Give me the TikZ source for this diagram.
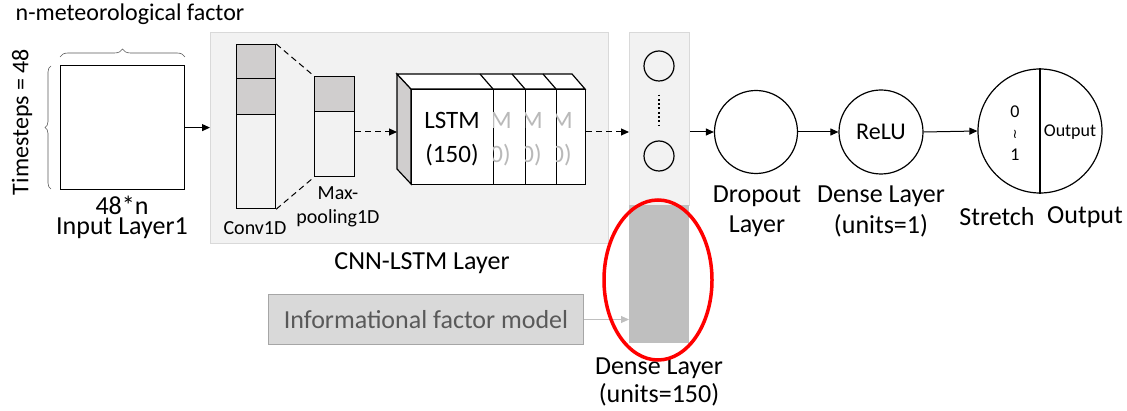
\documentclass[tikz,border=0pt]{standalone}
\usepackage{fontspec}
\setmainfont{Carlito}
\newfontfamily\symfont{DejaVu Sans}
\usetikzlibrary{arrows.meta,decorations.pathreplacing,calc}
\definecolor{panel}{HTML}{F2F2F2}
\definecolor{panelborder}{HTML}{D9D9D9}
\definecolor{segfill}{HTML}{D0CECE}
\definecolor{densefill}{HTML}{BFBFBF}
\definecolor{infofill}{HTML}{D9D9D9}
\definecolor{infoborder}{HTML}{A6A6A6}
\definecolor{infotext}{HTML}{595959}
\tikzset{
  lbl/.style={font=\fontsize{26}{28}\selectfont, inner sep=0pt},
  midlbl/.style={font=\fontsize{24}{26}\selectfont, inner sep=0pt},
  smlbl/.style={font=\fontsize{20}{22}\selectfont, inner sep=0pt},
  tiny/.style={font=\fontsize{18}{20}\selectfont, inner sep=0pt},
  arr/.style={-{Triangle[length=8pt,width=7pt]}, line width=1pt},
  darr/.style={arr, dash pattern=on 6pt off 4pt},
  box/.style={draw, line width=1.2pt},
  neuron/.style={circle, draw, line width=1.2pt, inner sep=0pt},
}
\begin{document}
\begin{tikzpicture}[x=1pt,y=-1pt]
\useasboundingbox (0,0) rectangle (1127,411);
% input layer
\node[box, minimum width=124pt, minimum height=124pt, anchor=north west] (inp) at (60,65) {};
\draw[decorate, decoration={brace, amplitude=8pt}, gray!70!black, line width=0.6pt] (60,57) -- (185,57);
\draw[decorate, decoration={brace, amplitude=6pt}, gray!70!black, line width=0.6pt] (51,189) -- (51,66);
\node[midlbl] (nmet) at (130,14) {n-meteorological factor};
\node[midlbl, rotate=90] (tstep) at (22,122) {Timesteps = 48};
\node[lbl] (n48) at (122,205) {48*n};
\node[lbl] (inplbl) at (122,228) {Input Layer1};
% CNN-LSTM panel
\node[draw=panelborder, fill=panel, line width=1pt, minimum width=398pt, minimum height=211pt, anchor=north west] (panel) at (210,32) {};
\node[lbl] (cnnlbl) at (422,263) {CNN-LSTM Layer};
\draw[arr] (inp.east) -- (panel.west |- inp.east);
% conv1d
\node[box, fill=segfill, minimum width=39pt, minimum height=34pt, anchor=north west] (c1) at (236,44) {};
\node[box, fill=segfill, minimum width=39pt, minimum height=36pt, anchor=north west] (c2) at (236,78) {};
\node[box, minimum width=39pt, minimum height=94pt, anchor=north west] (c3) at (236,114) {};
\node[smlbl] (convlbl) at (255,228) {Conv1D};
% maxpool
\node[box, fill=segfill, minimum width=40pt, minimum height=35pt, anchor=north west] (m1) at (314,76) {};
\node[box, minimum width=40pt, minimum height=65pt, anchor=north west] (m2) at (314,111) {};
\node[smlbl] (mplbl1) at (338,193) {Max-};
\node[smlbl] (mplbl2) at (338,218) {pooling1D};
\draw[dash pattern=on 6pt off 4pt, line width=1pt] (c1.north east) -- (m1.north west);
\draw[dash pattern=on 6pt off 4pt, line width=1pt] (c3.south east) -- (m2.south west);
% LSTM block
\coordinate (lstmin) at (397,132);
\filldraw[fill=segfill, line width=1.2pt] (397,74) -- (411,89) -- (411,184) -- (397,169) -- cycle;
\filldraw[fill=white, line width=1.2pt] (397,74) -- (572,74) -- (585,89) -- (411,89) -- cycle;
\node[box, fill=white, minimum width=82pt, minimum height=95pt, anchor=north west] (lstm) at (411,89) {};
\node[box, fill=white, minimum width=32pt, minimum height=95pt, anchor=north west] (s1) at (493,89) {};
\node[box, fill=white, minimum width=31pt, minimum height=95pt, anchor=north west] (s2) at (525,89) {};
\node[box, fill=white, minimum width=29pt, minimum height=95pt, anchor=north west] (s3) at (556,89) {};
\draw[line width=1.2pt] (480,74) -- (493,89) (512,74) -- (525,89) (543,74) -- (556,89);
\node[lbl, font=\fontsize{25}{34}\selectfont, align=center] (lstmtxt) at (452,139) {LSTM\\(150)};
\foreach \s/\sh in {s1/32,s2/63,s3/93}{
  \begin{scope}
    \clip (\s.north west) rectangle (\s.south east);
    \node[lbl, font=\fontsize{25}{34}\selectfont, align=center, text=gray!55] at (452+\sh,139) {LSTM\\(150)};
  \end{scope}
}
\draw[darr] (m2.east |- lstmin) -- (lstmin);
% dense column
\node[draw=panelborder, fill=panel, line width=1pt, minimum width=60pt, minimum height=173pt, anchor=north west] (dcol) at (629,32) {};
\node[fill=densefill, minimum width=60pt, minimum height=138pt, anchor=north west, inner sep=0pt] (dense) at (629,205) {};
\node[neuron, minimum size=30pt] (n1) at (659,66) {};
\node[neuron, minimum size=30pt] (n2) at (659,156) {};
\draw[line width=1.8pt, dash pattern=on 1.8pt off 2.5pt] ($(n1.south)+(0,13)$) -- ($(n2.north)+(0,-13)$);
\draw[darr] (s3.east |- lstmin) -- (dcol.west |- lstmin);
\node[lbl] (dlbl1) at (659,368) {Dense Layer};
\node[lbl] (dlbl2) at (659,395) {(units=150)};
% informational factor model
\node[draw=infoborder, fill=infofill, line width=1pt, minimum width=315pt, minimum height=50pt, anchor=north west] (info) at (268,294) {};
\node[lbl, text=infotext] (infotxt) at (info.center) {Informational factor model};
\draw[arr, densefill] (info.east) -- (dense.west |- info.east);
% red ellipse
\draw[red, line width=3.5pt] (658,280) ellipse [x radius=54pt, y radius=80pt];
% dropout
\node[neuron, minimum size=83pt] (drop) at (756,132) {};
\node[lbl] (droplbl1) at (757,196) {Dropout};
\node[lbl] (droplbl2) at (757,226) {Layer};
\draw[arr] (dcol.east |- drop.west) -- (drop.west);
% relu
\node[neuron, minimum size=84pt, font=\fontsize{24}{26}\selectfont] (relu) at (881,132) {ReLU};
\node[lbl] (relulbl1) at (881,196) {Dense Layer};
\node[lbl] (relulbl2) at (881,226) {(units=1)};
\draw[arr] (drop.east) -- (relu.west);
% output
\node[neuron, minimum size=124pt] (out) at (1040,131) {};
\draw[line width=1.2pt] (out.north) -- (out.south);
\draw[arr] (relu.east) -- (out.west);
\node[tiny] (z0) at (1015,112) {0};
\node[inner sep=0pt, font=\symfont\fontsize{13}{14}\selectfont] (zt) at (1015,134) {≀};
\node[tiny] (z1) at (1015,155) {1};
\node[tiny] (outin) at (1070,132) {Output};
\node[lbl] (stretch) at (997,217) {Stretch};
\node[lbl] (outlbl) at (1085,217) {Output};
\end{tikzpicture}
\end{document}
